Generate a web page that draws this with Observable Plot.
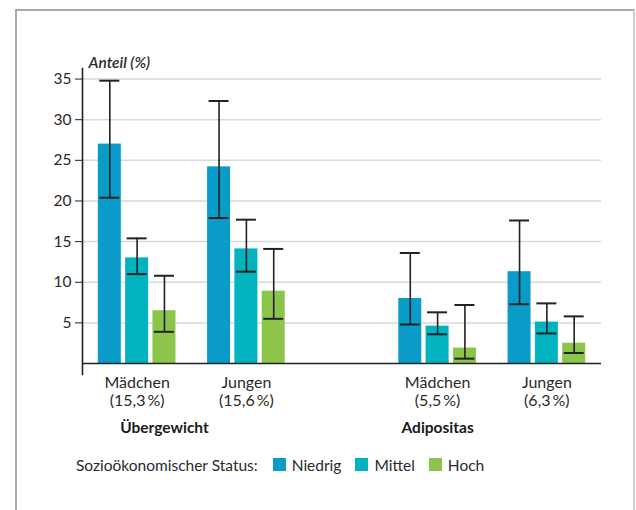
<!DOCTYPE html>
<html><head><meta charset="utf-8">
<script src="https://cdn.jsdelivr.net/npm/d3@7"></script>
<script src="https://cdn.jsdelivr.net/npm/@observablehq/plot@0.6"></script>
<style>
body{margin:0;background:#fff;font-family:Lato,sans-serif;}
#frame{position:absolute;left:15px;top:9px;width:620px;height:560px;border:2px solid #a8a8a8;border-right-color:#d0d0d0;border-bottom:none;box-sizing:border-box;}
#chart{position:absolute;left:0;top:0;}
#legend{position:absolute;left:76px;top:448px;font-family:Lato,sans-serif;font-size:15.5px;color:#2a2a2a;}
#legend .lab{margin-right:15px;}
.lg-swatch{margin-right:14px!important;}
.lg-swatch svg{margin-right:6px!important;}
</style>
</head><body>
<div id="frame"></div>
<div id="chart"></div>
<div id="legend"></div>
<script>
const conditions = ["Übergewicht", "Adipositas"];
const sexes = ["Mädchen", "Jungen"];
const sharesUeber = ["(15,3\u2009%)", "(15,6\u2009%)"];
const sharesAdipo = ["(5,5\u2009%)", "(6,3\u2009%)"];
const statuses = ["Niedrig", "Mittel", "Hoch"];
const colors = ["#0a9cc9", "#00b3bf", "#8dc44a"];

// values per group, in order Niedrig, Mittel, Hoch
const valUeberM = [27.0, 13.0, 6.5];
const loUeberM  = [20.4, 11.0, 3.9];
const hiUeberM  = [34.8, 15.4, 10.8];
const valUeberJ = [24.2, 14.1, 8.9];
const loUeberJ  = [17.9, 11.3, 5.5];
const hiUeberJ  = [32.3, 17.7, 14.1];
const valAdipoM = [8.0, 4.6, 1.9];
const loAdipoM  = [4.8, 3.6, 0.6];
const hiAdipoM  = [13.6, 6.3, 7.2];
const valAdipoJ = [11.3, 5.1, 2.5];
const loAdipoJ  = [7.3, 3.7, 1.3];
const hiAdipoJ  = [17.6, 7.4, 5.8];

const yTicks = [5, 10, 15, 20, 25, 30, 35];
const yLabel = "Anteil (%)";
const legendTitle = "Sozioökonomischer Status:";

// build table
const groups = [
  {cond: conditions[0], sex: sexes[0], share: sharesUeber[0], val: valUeberM, lo: loUeberM, hi: hiUeberM},
  {cond: conditions[0], sex: sexes[1], share: sharesUeber[1], val: valUeberJ, lo: loUeberJ, hi: hiUeberJ},
  {cond: conditions[1], sex: sexes[0], share: sharesAdipo[0], val: valAdipoM, lo: loAdipoM, hi: hiAdipoM},
  {cond: conditions[1], sex: sexes[1], share: sharesAdipo[1], val: valAdipoJ, lo: loAdipoJ, hi: hiAdipoJ}
];
const rows = [];
const domain = [];
const sexLabels = [];
const condLabels = [];
let sp = 0;
groups.forEach((g, gi) => {
  if (gi === 1 || gi === 3) domain.push("sp" + (sp++));
  if (gi === 2) for (let k = 0; k < 4; k++) domain.push("sp" + (sp++));
  statuses.forEach((s, si) => {
    const key = g.cond + "|" + g.sex + "|" + s;
    domain.push(key);
    rows.push({key, status: s, value: g.val[si], lo: g.lo[si], hi: g.hi[si]});
  });
  sexLabels.push({key: g.cond + "|" + g.sex + "|" + statuses[1], label: g.sex + "\n" + g.share});
  if (g.sex === sexes[0]) condLabels.push({key: g.cond + "|" + g.sex + "|" + (g.cond === conditions[0] ? statuses[2] : statuses[1]), label: g.cond});
});

const chart = Plot.plot({
  width: 636,
  height: 445,
  marginLeft: 82,
  marginRight: 35,
  marginTop: 68,
  marginBottom: 71,
  style: {fontFamily: "Lato, sans-serif", fontSize: "15px", color: "#2a2a2a", background: "transparent"},
  x: {type: "band", domain, paddingInner: 0.158, paddingOuter: 0.579, round: false, axis: null},
  y: {domain: [-1.35, 36.3], axis: null},
  color: {domain: statuses, range: colors},
  marks: [
    Plot.ruleY(yTicks, {stroke: "#d9d9d9", strokeWidth: 1.5}),
    Plot.barY(rows, {x: "key", y: "value", fill: "status"}),
    Plot.ruleX(rows, {x: "key", y1: "lo", y2: "hi", stroke: "#222", strokeWidth: 1.6}),
    Plot.tickY(rows, {x: "key", y: "lo", stroke: "#222", strokeWidth: 2, insetLeft: 1.5, insetRight: 1.5}),
    Plot.tickY(rows, {x: "key", y: "hi", stroke: "#222", strokeWidth: 2, insetLeft: 1.5, insetRight: 1.5}),
    Plot.ruleY([0], {stroke: "#222", strokeWidth: 1.6}),
    Plot.frame({anchor: "left", stroke: "#222", strokeWidth: 1.6}),
    Plot.axisY({ticks: yTicks, tickSize: 7, tickPadding: 4, label: null, stroke: "#222", fill: "#2a2a2a", fontSize: 15.5}),
    Plot.text(sexLabels, {x: "key", text: "label", frameAnchor: "bottom", lineAnchor: "top", dy: 0, lineHeight: 1.15, fontSize: 16, fill: "#2a2a2a"}),
    Plot.text(condLabels, {x: "key", text: "label", frameAnchor: "bottom", lineAnchor: "middle", dy: 54, fontSize: 15.5, fontWeight: "bold", fill: "#1a1a1a"}),
    Plot.text([yLabel], {frameAnchor: "top-left", textAnchor: "start", lineAnchor: "middle", dx: 6, dy: -5, fontSize: 15.5, fontStyle: "italic", fontWeight: 600, fill: "#2a2a2a"})
  ]
});
document.getElementById("chart").appendChild(chart);

const leg = Plot.legend({color: {domain: statuses, range: colors}, swatchSize: 13, className: "lg", style: {fontFamily: "Lato, sans-serif", fontSize: "15.5px", color: "#2a2a2a"}});
const lab = document.createElement("span");
lab.className = "lab";
lab.textContent = legendTitle;
leg.insertBefore(lab, leg.querySelector(".lg-swatch"));
document.getElementById("legend").appendChild(leg);
</script>
</body></html>
